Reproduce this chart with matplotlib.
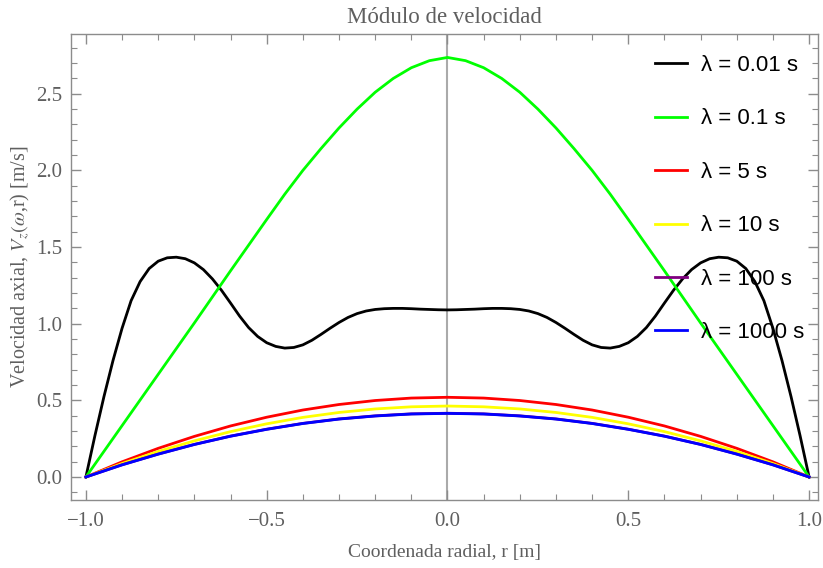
import matplotlib
matplotlib.use("Agg")
import matplotlib.pyplot as plt
from matplotlib.ticker import MultipleLocator

# ---- data ----
r_black = [-1.00, -0.975, -0.95, -0.925, -0.90, -0.875, -0.85, -0.825, -0.80, -0.775, -0.75, -0.725,
           -0.70, -0.675, -0.65, -0.625, -0.60, -0.575, -0.55, -0.525, -0.50, -0.475, -0.45, -0.425,
           -0.40, -0.375, -0.35, -0.325, -0.30, -0.275, -0.25, -0.225, -0.20, -0.175, -0.15, -0.125,
           -0.10, -0.075, -0.05, -0.025, 0.00,
           0.025, 0.05, 0.075, 0.10, 0.125, 0.15, 0.175, 0.20, 0.225, 0.25, 0.275, 0.30, 0.325, 0.35,
           0.375, 0.40, 0.425, 0.45, 0.475, 0.50, 0.525, 0.55, 0.575, 0.60, 0.625, 0.65, 0.675, 0.70,
           0.725, 0.75, 0.775, 0.80, 0.825, 0.85, 0.875, 0.90, 0.925, 0.95, 0.975, 1.00]
v_black = [0.00, 0.27, 0.525, 0.76, 0.97, 1.15, 1.275, 1.36, 1.408, 1.43, 1.434, 1.424,
           1.397, 1.353, 1.292, 1.218, 1.135, 1.050, 0.975, 0.917, 0.876, 0.852, 0.841, 0.845,
           0.862, 0.892, 0.930, 0.970, 1.008, 1.041, 1.066, 1.083, 1.093, 1.098, 1.100, 1.100,
           1.098, 1.095, 1.093, 1.091, 1.090,
           1.091, 1.093, 1.095, 1.098, 1.100, 1.100, 1.098, 1.093, 1.083, 1.066, 1.041, 1.008, 0.970, 0.930,
           0.892, 0.862, 0.845, 0.841, 0.852, 0.876, 0.917, 0.975, 1.050, 1.135, 1.218, 1.292, 1.353, 1.397,
           1.424, 1.434, 1.43, 1.408, 1.36, 1.275, 1.15, 0.97, 0.76, 0.525, 0.27, 0.00]

r_green = [-1.0, -0.9, -0.8, -0.7, -0.6, -0.5, -0.45, -0.4, -0.35, -0.3, -0.25, -0.2, -0.15, -0.1, -0.05, 0.0,
           0.05, 0.1, 0.15, 0.2, 0.25, 0.3, 0.35, 0.4, 0.45, 0.5, 0.6, 0.7, 0.8, 0.9, 1.0]
v_green = [0.0, 0.335, 0.67, 1.005, 1.345, 1.68, 1.845, 2.0, 2.142, 2.277, 2.40, 2.51, 2.60, 2.67, 2.716, 2.737,
           2.716, 2.67, 2.60, 2.51, 2.40, 2.277, 2.142, 2.0, 1.845, 1.68, 1.345, 1.005, 0.67, 0.335, 0.0]

r_low = [-1.0, -0.9, -0.8, -0.7, -0.6, -0.5, -0.4, -0.3, -0.2, -0.1, 0.0,
         0.1, 0.2, 0.3, 0.4, 0.5, 0.6, 0.7, 0.8, 0.9, 1.0]
v_red = [0.0, 0.099, 0.187, 0.265, 0.333, 0.390, 0.437, 0.473, 0.499, 0.515, 0.520,
         0.515, 0.499, 0.473, 0.437, 0.390, 0.333, 0.265, 0.187, 0.099, 0.0]
v_yellow = [0.0, 0.088, 0.167, 0.236, 0.296, 0.347, 0.389, 0.421, 0.444, 0.458, 0.463,
            0.458, 0.444, 0.421, 0.389, 0.347, 0.296, 0.236, 0.167, 0.088, 0.0]
v_purple = [0.0, 0.080, 0.150, 0.213, 0.267, 0.312, 0.350, 0.379, 0.399, 0.412, 0.416,
            0.412, 0.399, 0.379, 0.350, 0.312, 0.267, 0.213, 0.150, 0.080, 0.0]
v_blue = [0.0, 0.079, 0.149, 0.212, 0.266, 0.311, 0.349, 0.378, 0.398, 0.411, 0.415,
          0.411, 0.398, 0.378, 0.349, 0.311, 0.266, 0.212, 0.149, 0.079, 0.0]

labels = ["λ = 0.01 s", "λ = 0.1 s", "λ = 5 s", "λ = 10 s", "λ = 100 s", "λ = 1000 s"]
colors = ["#000000", "#00ff00", "#ff0000", "#ffff00", "#800080", "#0000ff"]

# ---- figure ----
plt.rcParams["mathtext.fontset"] = "stix"
serif = ["Liberation Serif", "DejaVu Serif"]
txt_col = "#5f5f5f"
frame_col = "#8c8c8c"

fig = plt.figure(figsize=(8.23, 5.68), dpi=100)
ax = fig.add_axes([70.7 / 823, 1 - 500 / 568, (818.5 - 70.7) / 823, (500 - 34) / 568])

series = [(r_black, v_black), (r_green, v_green), (r_low, v_red),
          (r_low, v_yellow), (r_low, v_purple), (r_low, v_blue)]
ax.axvline(0, color="#aaaaaa", lw=1.5, zorder=1)
for (rr, vv), c, lab in zip(series, colors, labels):
    ax.plot(rr, vv, color=c, lw=2.0, label=lab, zorder=3, solid_joinstyle="round")

ax.set_xlim(-1.042, 1.026)
ax.set_ylim(-0.15, 2.89)

ax.xaxis.set_major_locator(MultipleLocator(0.5))
ax.xaxis.set_minor_locator(MultipleLocator(0.1))
ax.yaxis.set_major_locator(MultipleLocator(0.5))
ax.yaxis.set_minor_locator(MultipleLocator(0.1))
ax.xaxis.set_major_formatter(matplotlib.ticker.FuncFormatter(lambda v, p: f"{v:.1f}".replace("-", "\u2212")))
ax.yaxis.set_major_formatter(matplotlib.ticker.FuncFormatter(lambda v, p: f"{v:.1f}".replace("-", "\u2212")))

ax.tick_params(which="both", direction="in", top=True, right=True, color=frame_col,
               labelcolor=txt_col, labelsize=15)
ax.tick_params(which="major", length=7, width=1)
ax.tick_params(which="minor", length=4, width=0.8)
ax.tick_params(axis="x", pad=9)
ax.tick_params(axis="y", pad=6)
for lab in ax.get_xticklabels() + ax.get_yticklabels():
    lab.set_fontfamily(serif)
for s in ax.spines.values():
    s.set_color(frame_col)
    s.set_linewidth(1.0)

ax.set_title("Módulo de velocidad", family=serif, fontsize=16.5, color=txt_col, pad=8)
ax.set_xlabel("Coordenada radial, r [m]", family=serif, fontsize=14, color=txt_col, labelpad=9)
ax.set_ylabel(r"Velocidad axial, $V_z(\omega$,r) [m/s]", family=serif, fontsize=14.5,
              color=txt_col, labelpad=3)

leg = ax.legend(loc="upper left", bbox_to_anchor=(655 / 823, 1 - 55 / 568),
                bbox_transform=fig.transFigure, frameon=False, borderpad=0, borderaxespad=0,
                handlelength=1.45, handletextpad=0.6, labelspacing=1.46,
                prop={"family": ["Liberation Sans", "DejaVu Sans"], "size": 16})
leg.set_zorder(5)

fig.savefig("out.png", dpi=100)
